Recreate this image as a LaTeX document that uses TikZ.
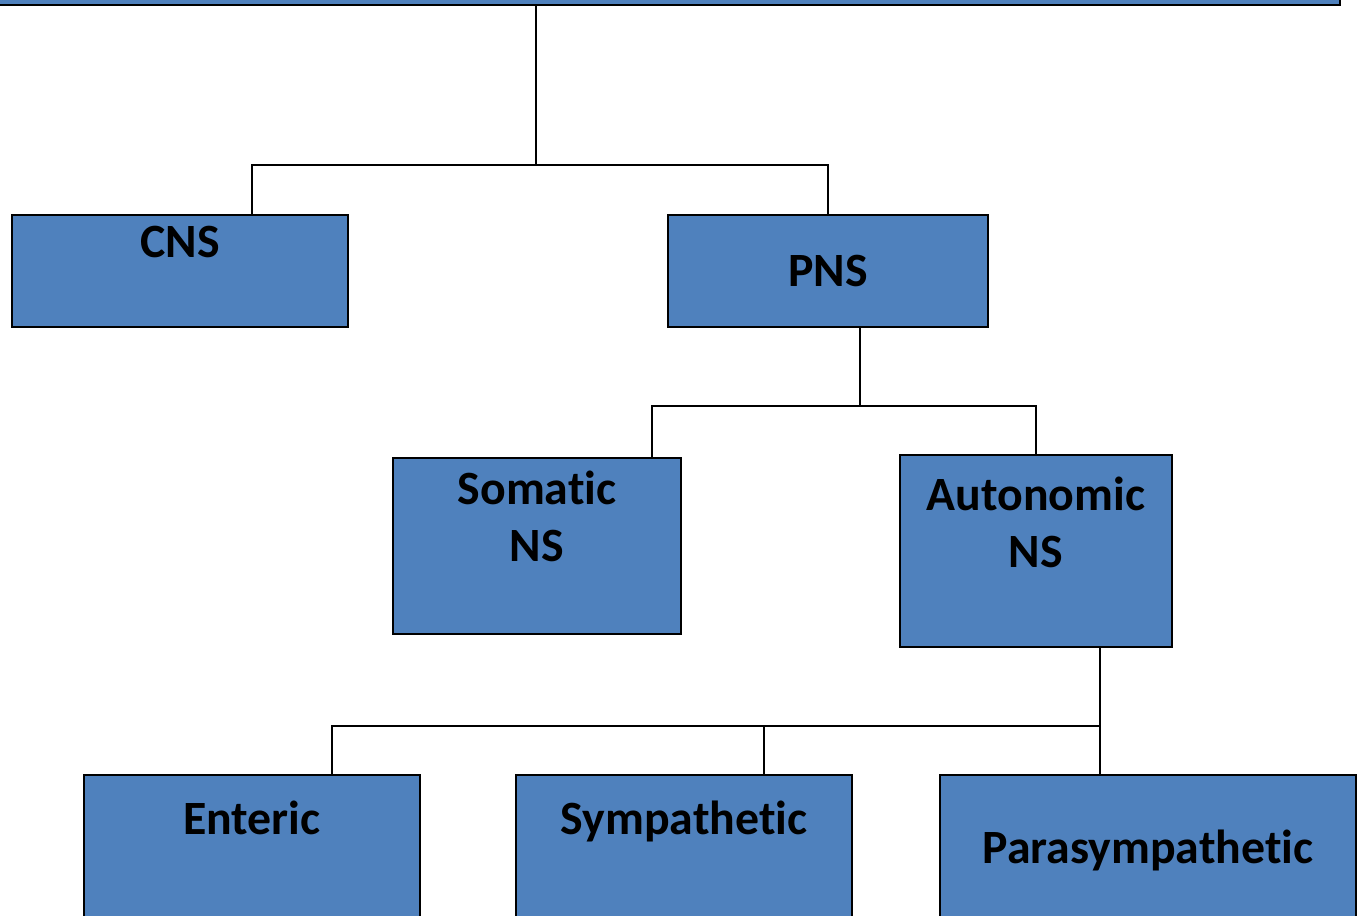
\documentclass[tikz,border=0pt]{standalone}
\usepackage{fontspec}
\setmainfont{Carlito}[Ligatures=NoCommon]
\definecolor{nsblue}{HTML}{4F81BD}
\tikzset{
  nsbox/.style={draw=black, fill=nsblue, line width=1.1pt, inner sep=0pt,
    align=center, anchor=north, font=\fontsize{27.2}{32.6}\selectfont\bfseries},
  link/.style={line width=1pt}
}
\begin{document}
\begin{tikzpicture}[x=0.02cm, y=-0.02cm]
  \useasboundingbox (0,0) rectangle (1364,915);
  \clip (0,0) rectangle (1364,915);
  % boxes
  \node[nsbox, minimum width=27.2cm, minimum height=2.2cm, anchor=south] (ns) at (660,6) {};
  \node[nsbox, minimum width=6.72cm, text height=0.86cm, text depth=1.38cm] (cns) at (180,214) {CNS};
  \node[nsbox, minimum width=6.4cm, text height=1.44cm, text depth=0.8cm] (pns) at (828,214) {PNS};
  \node[nsbox, minimum width=5.76cm, text height=2.07cm, text depth=1.45cm] (somatic) at (537,457) {Somatic\\NS};
  \node[nsbox, minimum width=5.44cm, text height=2.25cm, text depth=1.59cm] (autonomic) at (1036,454) {Autonomic\\NS};
  \node[nsbox, minimum width=6.72cm, text height=1.2cm, text depth=2.12cm] (enteric) at (252,774) {Enteric};
  \node[nsbox, minimum width=6.72cm, text height=1.2cm, text depth=2.12cm] (sympathetic) at (684,774) {Sympathetic};
  \node[nsbox, minimum width=8.32cm, text height=1.78cm, text depth=1.54cm] (parasympathetic) at (1148,774) {Parasympathetic};
  % junctions
  \coordinate (b1) at (536,165);
  \coordinate (b1l) at (252,165);
  \coordinate (b1r) at (828,165);
  \coordinate (b2) at (860,406);
  \coordinate (b2l) at (652,406);
  \coordinate (b2r) at (1036,406);
  \coordinate (b3) at (1100,726);
  \coordinate (b3l) at (332,726);
  \coordinate (b3m) at (764,726);
  % links
  \draw[link] (ns.south -| b1) -- (b1);
  \draw[link] (cns.north -| b1l) -- (b1l) -- (b1r) -- (pns.north);
  \draw[link] (pns.south -| b2) -- (b2);
  \draw[link] (somatic.north -| b2l) -- (b2l) -- (b2r) -- (autonomic.north);
  \draw[link] (autonomic.south -| b3) -- (b3);
  \draw[link] (enteric.north -| b3l) -- (b3l) -- (b3);
  \draw[link] (b3m) -- (sympathetic.north -| b3m);
  \draw[link] (b3) -- (parasympathetic.north -| b3);
\end{tikzpicture}
\end{document}
